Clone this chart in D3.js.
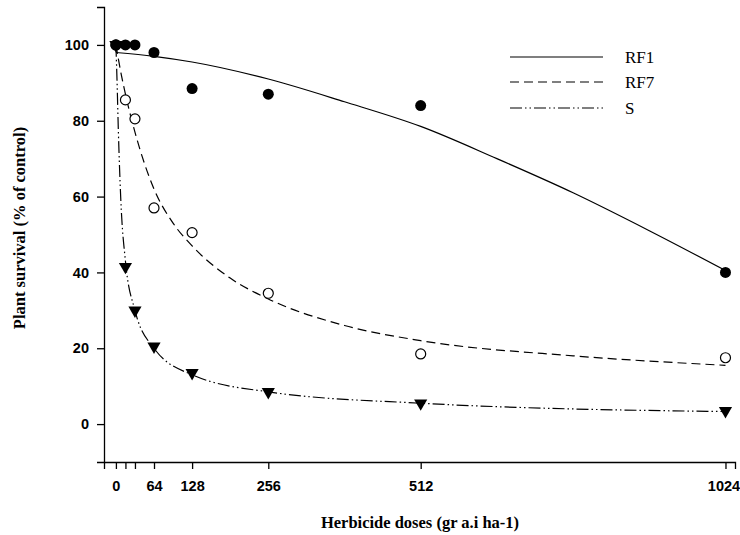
<!DOCTYPE html>
<html>
<head>
<meta charset="utf-8">
<script src="https://cdn.jsdelivr.net/npm/d3@7"></script>
<style>
    body { margin: 0; background: #fff; }
    .tick text { font-family: "Liberation Sans", Arial, sans-serif; font-weight: bold; font-size: 14.5px; }
    .title { font-family: "Liberation Serif", "Times New Roman", serif; font-weight: bold; font-size: 16.5px; }
    .legend { font-family: "Liberation Serif", "Times New Roman", serif; font-size: 17px; }
</style>
</head>
<body>
<script>
var doses = [0, 16, 32, 64, 128, 256, 512, 1024];
var rf1Survival = [100, 100, 100, 98, 88.5, 87, 84, 40];
var rf7Survival = [100, 85.5, 80.5, 57, 50.5, 34.5, 18.5, 17.5];
var sSurvival = [100, 41.5, 30, 20.5, 13.5, 8.5, 5.5, 3.5];

// fitted curves
var rf1CurveX = [0, 64, 128, 256, 384, 512, 640, 768, 896, 1024];
var rf1CurveY = [98, 97, 95.5, 91, 85, 78.5, 70, 61, 51, 40.5];
var rf7CurveX = [0, 8, 16, 32, 64, 96, 128, 192, 256, 384, 512, 768, 1024];
var rf7CurveY = [100, 93, 87, 77, 62, 53, 47, 38.5, 33, 26, 22, 18, 15.5];
var sCurveX = [0, 2, 4, 8, 16, 32, 64, 128, 256, 512, 1024];
var sCurveY = [100, 90, 78, 60, 43, 30, 20, 13, 8.5, 5.5, 3.3];

var xTicks = [0, 16, 32, 64, 128, 256, 512, 1024];
var xTickLabels = ["0", "", "", "64", "128", "256", "512", "1024"];
var yTicks = [0, 20, 40, 60, 80, 100];

var width = 740, height = 535;
var svg = d3.select("body").append("svg").attr("width", width).attr("height", height);

var x = d3.scaleLinear().domain([-20, 1040]).range([104, 735]);
var y = d3.scaleLinear().domain([-10, 110]).range([462, 7]);

svg.append("g")
    .attr("transform", "translate(0,462)")
    .call(d3.axisBottom(x).tickValues(xTicks).tickFormat((d, i) => xTickLabels[i]).tickSizeOuter(0).tickSize(7).tickPadding(12))
    .call(g => g.selectAll("line, path").attr("stroke", "#000").attr("stroke-width", 1.3))
    .call(g => g.selectAll(".tick text").filter(d => d == 1024).attr("dx", -2));

svg.append("g")
    .attr("transform", "translate(104,0)")
    .call(d3.axisLeft(y).tickValues(yTicks).tickSizeOuter(0).tickSize(7).tickPadding(8))
    .call(g => g.selectAll("line, path").attr("stroke", "#000").attr("stroke-width", 1.3));

svg.selectAll(".tick text").attr("fill", "#000");

svg.append("text").attr("class", "title")
    .attr("x", 420).attr("y", 528).attr("text-anchor", "middle")
    .text("Herbicide doses (gr a.i ha-1)");
svg.append("text").attr("class", "title")
    .attr("transform", "translate(25,228) rotate(-90)").attr("text-anchor", "middle")
    .text("Plant survival (% of control)");

var line = d3.line().x(d => x(d[0])).y(d => y(d[1])).curve(d3.curveMonotoneX);

var series = [
    { name: "RF1", xs: rf1CurveX, ys: rf1CurveY, dash: null },
    { name: "RF7", xs: rf7CurveX, ys: rf7CurveY, dash: "9,5" },
    { name: "S", xs: sCurveX, ys: sCurveY, dash: "12,3,1.5,3,1.5,3" }
];

for (var s of series) {
    svg.append("path")
        .datum(d3.zip(s.xs, s.ys))
        .attr("fill", "none")
        .attr("stroke", "#000")
        .attr("stroke-width", 1.2)
        .attr("stroke-dasharray", s.dash)
        .attr("d", line);
}

// markers
var triangle = d3.symbol().type(d3.symbolTriangle).size(75);
svg.append("g").selectAll("path")
    .data(d3.zip(doses, sSurvival))
    .join("path")
    .attr("d", triangle)
    .attr("transform", d => "translate(" + x(d[0]) + "," + y(d[1]) + ") rotate(180)")
    .attr("fill", "#000");

svg.append("g").selectAll("circle")
    .data(d3.zip(doses, rf7Survival))
    .join("circle")
    .attr("cx", d => x(d[0])).attr("cy", d => y(d[1])).attr("r", 5)
    .attr("fill", "#fff").attr("stroke", "#000").attr("stroke-width", 1.2);

svg.append("g").selectAll("circle")
    .data(d3.zip(doses, rf1Survival))
    .join("circle")
    .attr("cx", d => x(d[0])).attr("cy", d => y(d[1])).attr("r", 5.5)
    .attr("fill", "#000");

// legend
var legendY = [57, 82, 108];
series.forEach(function (s, i) {
    svg.append("line")
        .attr("x1", 510).attr("x2", 603)
        .attr("y1", legendY[i]).attr("y2", legendY[i])
        .attr("stroke", "#000").attr("stroke-width", 1.2)
        .attr("stroke-dasharray", s.dash);
    svg.append("text").attr("class", "legend")
        .attr("x", 625).attr("y", legendY[i] + 6)
        .text(s.name);
});
</script>
</body>
</html>
